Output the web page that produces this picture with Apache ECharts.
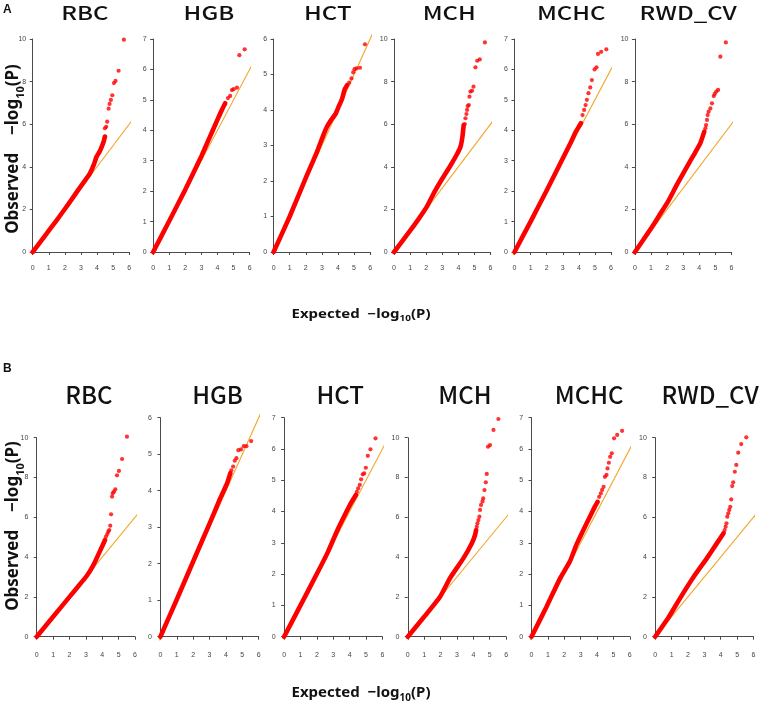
<!DOCTYPE html>
<html><head><meta charset="utf-8">
<script src="https://cdn.jsdelivr.net/npm/echarts@6/dist/echarts.min.js"></script>
<style>html,body{margin:0;padding:0;background:#fff}#c{width:763px;height:702px}</style>
</head><body><div id="c"></div>
<script>
// ---------- DATA ----------
const traitsA = ['RBC','HGB','HCT','MCH','MCHC','RWD_CV'];
const traitsB = ['RBC','HGB','HCT','MCH','MCHC','RWD_CV'];
const yMaxA = [10,7,6,10,7,10];
const yStepA = [2,1,1,2,1,2];
const yMaxB = [10,6,7,10,7,10];
const yStepB = [2,1,1,2,1,2];
const xMin = 0, xMax = 6, xStep = 1;
const nullLine = [[-0.22,-0.22],[6.25,6.25]]; // expected = observed

// Panel A (dense part of each QQ curve, then sparse tail points)
const rbcA_body = [[0,0],[0.5,0.5],[1,1],[1.5,1.5],[2,2.02],[2.5,2.55],[2.8,2.88],[3.2,3.3],[3.56,3.69],[3.8,4.1],[3.97,4.47],[4.15,4.7],[4.29,4.94],[4.42,5.2],[4.49,5.42]];
const rbcA_tail = [[4.49,5.81],[4.57,5.88],[4.63,6.12],[4.72,6.73],[4.78,6.95],[4.86,7.14],[4.95,7.36],[5.05,7.93],[5.15,8.03],[5.34,8.51],[5.67,9.97]];
const hgbA_body = [[0,0],[1,1.02],[2,2.05],[2.5,2.6],[3,3.15],[3.5,3.75],[4,4.35],[4.3,4.7],[4.48,4.89]];
const hgbA_tail = [[4.65,5.06],[4.79,5.13],[4.9,5.32],[5.0,5.35],[5.21,5.40],[5.36,6.47],[5.69,6.66]];
const hctA_body = [[0,0],[1,1],[2.06,2.15],[2.68,2.8],[3.1,3.3],[3.31,3.52],[3.52,3.68],[3.84,3.88],[4.05,4.1],[4.26,4.32],[4.42,4.58],[4.57,4.7]];
const hctA_tail = [[4.7,4.77],[4.84,4.89],[4.95,5.06],[5.03,5.15],[5.16,5.17],[5.37,5.19],[5.68,5.85]];
const mchA_body = [[0,0],[1,1],[1.5,1.52],[2.04,2.13],[2.5,2.8],[2.88,3.3],[3.5,4.05],[3.92,4.6],[4.13,4.94],[4.25,5.4],[4.33,5.96]];
const mchA_tail = [[4.4,6.01],[4.44,6.28],[4.5,6.48],[4.54,6.67],[4.58,6.85],[4.65,6.9],[4.69,7.29],[4.75,7.53],[4.85,7.57],[4.94,7.76],[5.06,8.67],[5.17,8.98],[5.33,9.04],[5.65,9.84]];
const mchcA_body = [[0,0],[1,1],[2,2.02],[3,3.07],[3.5,3.6],[3.81,3.95],[4.0,4.12],[4.13,4.23]];
const mchcA_tail = [[4.23,4.5],[4.33,4.67],[4.42,4.83],[4.5,5.0],[4.6,5.22],[4.71,5.41],[4.81,5.65],[4.98,6.0],[5.1,6.07],[5.19,6.51],[5.39,6.58],[5.71,6.66]];
const rwdA_body = [[0,0],[0.5,0.55],[1.04,1.15],[1.5,1.7],[2.08,2.4],[2.6,3.15],[3.23,4.0],[3.65,4.55],[4.06,5.1],[4.31,5.65]];
const rwdA_tail = [[4.38,5.81],[4.42,5.96],[4.48,6.2],[4.52,6.43],[4.58,6.59],[4.69,6.74],[4.79,6.98],[4.9,7.32],[4.96,7.42],[5.06,7.53],[5.17,7.61],[5.31,9.17],[5.65,9.84]];

// Panel B
const rbcB_body = [[0,0],[1,1],[2,2],[2.5,2.5],[3.05,3.05],[3.46,3.6],[3.86,4.3],[4.17,4.86]];
const rbcB_tail = [[4.23,5.03],[4.31,5.16],[4.37,5.28],[4.43,5.36],[4.49,5.58],[4.54,6.15],[4.6,7.04],[4.64,7.21],[4.72,7.29],[4.8,7.41],[4.9,8.11],[5.02,8.33],[5.21,8.93],[5.51,10.05]];
const hgbB_body = [[0,0],[1,1.02],[2,2.06],[3,3.1],[3.66,3.8],[4.07,4.2],[4.27,4.48]];
const hgbB_tail = [[4.33,4.56],[4.44,4.66],[4.54,4.82],[4.64,4.89],[4.76,5.11],[4.92,5.13],[5.09,5.22],[5.25,5.22],[5.54,5.36]];
const hctB_body = [[0,0],[0.88,0.88],[2.04,2.05],[2.65,2.68],[3.26,3.41],[3.66,3.84],[4.07,4.26],[4.38,4.53]];
const hctB_tail = [[4.44,4.63],[4.52,4.74],[4.62,4.85],[4.7,5.03],[4.8,5.19],[4.89,5.22],[4.99,5.4],[5.11,5.78],[5.27,5.99],[5.58,6.34]];
const mchB_body = [[0,0],[1,1],[1.97,2.01],[2.58,2.95],[3.4,3.95],[3.91,4.7],[4.1,5.1],[4.17,5.36]];
const mchB_tail = [[4.21,5.53],[4.25,5.7],[4.31,5.86],[4.37,6.03],[4.41,6.37],[4.47,6.62],[4.56,6.8],[4.6,6.95],[4.68,7.37],[4.76,7.76],[4.82,8.18],[4.9,9.55],[5.02,9.63],[5.23,10.39],[5.53,10.94]];
const mchcB_body = [[0,0],[0.92,0.96],[1.73,1.85],[2.34,2.4],[2.75,2.95],[3.36,3.62],[3.86,4.15],[4.03,4.31]];
const mchcB_tail = [[4.13,4.47],[4.23,4.58],[4.31,4.69],[4.4,4.79],[4.48,5.11],[4.58,5.17],[4.64,5.38],[4.72,5.56],[4.8,5.75],[4.9,5.86],[5.04,6.34],[5.23,6.45],[5.53,6.58]];
const rwdB_body = [[0,0],[0.8,0.95],[1.53,1.95],[2.34,3.0],[3.16,3.95],[3.76,4.69],[4.17,5.2]];
const rwdB_tail = [[4.24,5.36],[4.3,5.53],[4.35,5.7],[4.4,6.03],[4.46,6.2],[4.52,6.37],[4.58,6.53],[4.64,6.9],[4.7,7.57],[4.76,7.76],[4.86,8.29],[4.95,8.63],[5.07,9.25],[5.25,9.68],[5.56,10.02]];

const bodiesA = [rbcA_body,hgbA_body,hctA_body,mchA_body,mchcA_body,rwdA_body];
const tailsA = [rbcA_tail,hgbA_tail,hctA_tail,mchA_tail,mchcA_tail,rwdA_tail];
const bodiesB = [rbcB_body,hgbB_body,hctB_body,mchB_body,mchcB_body,rwdB_body];
const tailsB = [rbcB_tail,hgbB_tail,hctB_tail,mchB_tail,mchcB_tail,rwdB_tail];

// ---------- LAYOUT ----------
const RED = '#ff0000', GOLD = '#f2a62a', AX = '#4a4a4a';
const rows = [
  {traits: traitsA, yMax: yMaxA, yStep: yStepA, bodies: bodiesA, tails: tailsA,
   left0: 32.7, dx: 120.45, w: 96.5, bottom: 252, top10: 39, topS: 39, xOff: 8, yOff: 2.5,
   titleY: 3, sy: 0.8, titleDx: [4,7.5,6,7,8.5,5], letter: 'A', letterY: 4, xlabY: 305.5, ylabY: 149},
  {traits: traitsB, yMax: yMaxB, yStep: yStepB, bodies: bodiesB, tails: tailsB,
   left0: 36.7, dx: 123.7, w: 98.3, bottom: 636.7, top10: 437.7, topS: 417.7, xOff: 10, yOff: 4.4,
   titleY: 382.5, sy: 1, titleDx: [3,8,7,8,8.5,5.7], letter: 'B', letterY: 363, xlabY: 681.5, ylabY: 526}
];

const grids = [], xAxes = [], yAxes = [], series = [], graphics = [];
let gi = 0;
rows.forEach(function(r){
  for (let i = 0; i < 6; i++) {
    const top = r.yMax[i] >= 10 ? r.top10 : r.topS;
    const left = r.left0 + r.dx * i;
    grids.push({left: left, top: top, width: r.w, height: r.bottom - top});
    xAxes.push({gridIndex: gi, type: 'value', min: xMin, max: xMax, interval: xStep, offset: r.xOff,
      axisLine: {show: true, lineStyle: {color: AX, width: 1}},
      axisTick: {show: true, length: 3, lineStyle: {color: AX, width: 1}},
      axisLabel: {fontSize: 7, color: '#444', margin: 5, fontFamily: 'Liberation Sans'},
      splitLine: {show: false}});
    yAxes.push({gridIndex: gi, type: 'value', min: 0, max: r.yMax[i], interval: r.yStep[i], offset: r.yOff,
      axisLine: {show: true, lineStyle: {color: AX, width: 1}},
      axisTick: {show: true, length: 3, lineStyle: {color: AX, width: 1}},
      axisLabel: {fontSize: 7, color: '#444', margin: 4, fontFamily: 'Liberation Sans'},
      splitLine: {show: false}});
    series.push({type: 'line', xAxisIndex: gi, yAxisIndex: gi, data: nullLine, showSymbol: false,
      clip: false, silent: true, z: 1, lineStyle: {color: GOLD, width: 1.1}});
    series.push({type: 'line', xAxisIndex: gi, yAxisIndex: gi, data: r.bodies[i], showSymbol: false, smooth: 0.15,
      clip: false, silent: true, z: 2, lineStyle: {color: RED, width: 4.6, cap: 'round', join: 'round'}});
    series.push({type: 'scatter', xAxisIndex: gi, yAxisIndex: gi, data: r.tails[i], symbolSize: 4.2,
      clip: false, silent: true, z: 3, itemStyle: {color: RED}});
    graphics.push({type: 'text', x: left + r.w / 2 + r.titleDx[i], y: r.titleY, scaleY: r.sy,
      style: {text: r.traits[i], font: '500 24px "Noto Sans CJK SC"', fill: '#111', align: 'center', verticalAlign: 'top'}});
    gi++;
  }
  graphics.push({type: 'text', x: 3, y: r.letterY,
    style: {text: r.letter, font: 'bold 12px "Liberation Sans"', fill: '#111'}});
  graphics.push({type: 'text', x: 361, y: r.xlabY, scaleY: r.sy,
    style: {text: '{b|Expected  \u2212log}{s|10}{b|(P)}', align: 'center', verticalAlign: 'top',
      rich: {b: {font: 'bold 15px "Noto Sans"', fill: '#111', lineHeight: 19, verticalAlign: 'bottom'},
             s: {font: 'bold 10px "Noto Sans"', fill: '#111', lineHeight: 14, verticalAlign: 'bottom', padding: [0,0,-3,0]}}}});
  graphics.push({type: 'text', x: 1, y: r.ylabY, rotation: Math.PI / 2,
    style: {text: '{b|Observed    \u2212log}{s|10}{b|(P)}', align: 'center', verticalAlign: 'top',
      rich: {b: {font: 'bold 17px "Noto Sans"', fill: '#111', lineHeight: 21, verticalAlign: 'bottom'},
             s: {font: 'bold 11px "Noto Sans"', fill: '#111', lineHeight: 15, verticalAlign: 'bottom', padding: [0,0,-4,0]}}}});
});

const chart = echarts.init(document.getElementById('c'), null, {renderer: 'canvas'});
chart.setOption({animation: false, backgroundColor: '#fff', grid: grids, xAxis: xAxes, yAxis: yAxes, series: series, graphic: graphics});
</script></body></html>
